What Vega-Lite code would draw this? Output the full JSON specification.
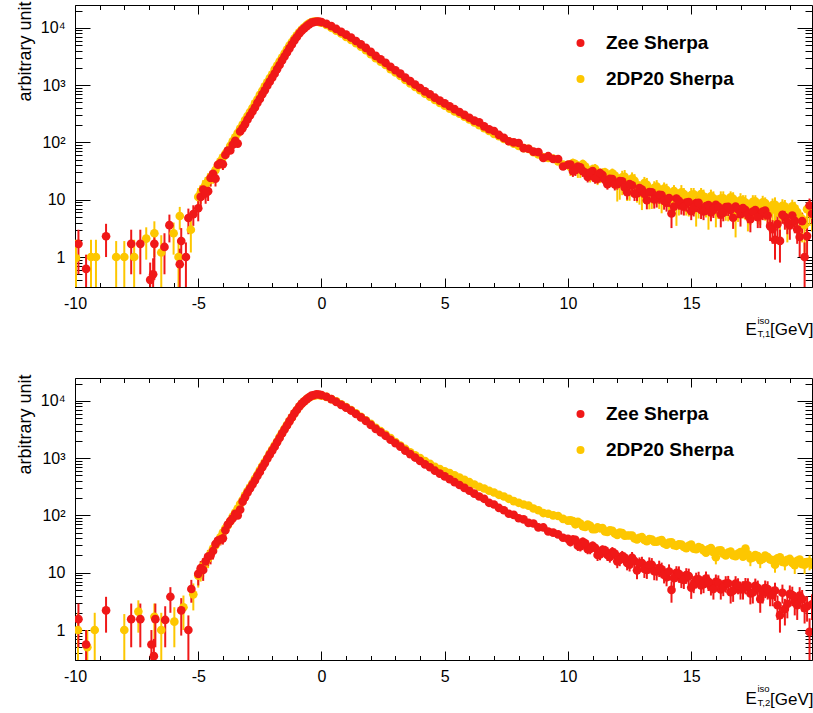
{
"$schema": "https://vega.github.io/schema/vega-lite/v6.json",
"padding": {"left": 15, "top": 0, "right": 0, "bottom": 0},
"config": {
 "view": {"stroke": "black", "strokeWidth": 1},
 "font": "Liberation Sans",
 "axis": {"domain": false, "grid": false, "tickColor": "black", "tickWidth": 1, "labelColor": "black", "labelFont": "Liberation Sans", "labelFontSize": 16, "titleColor": "black", "titleFont": "Liberation Sans", "titleFontWeight": "normal", "labelOverlap": false, "labelBound": false, "labelFlush": false},
 "legend": {"padding": 0}
},
"datasets": {
"top": [
{"s":"D","x":-9.96,"y":0.96,"l":0.1,"h":2.0},{"s":"D","x":-9.35,"y":1.0,"l":0.2,"h":2.0},{"s":"D","x":-9.15,"y":1.0,"l":0.1,"h":2.0},{"s":"D","x":-8.33,"y":1.0,"l":0.3,"h":1.9},{"s":"D","x":-8.0,"y":1.0,"l":0.3,"h":1.9},{"s":"D","x":-7.6,"y":1.0,"l":0.2,"h":2.0},{"s":"D","x":-7.11,"y":2.1,"l":0.9,"h":3.3},{"s":"D","x":-6.78,"y":2.6,"l":1.0,"h":4.2},{"s":"D","x":-6.5,"y":1.2,"l":0.1,"h":2.4},{"s":"D","x":-6.0,"y":2.6,"l":1.1,"h":4.0},{"s":"D","x":-5.8,"y":1.0,"l":0.2,"h":2.0},{"s":"D","x":-5.75,"y":5.2,"l":3.0,"h":7.5},{"s":"D","x":-5.3,"y":3.0,"l":1.2,"h":4.8},
{"s":"D","x":-5.0,"y":11.2,"l":6.5,"h":16},{"s":"D","x":-4.8,"y":15.8,"l":10,"h":22},{"s":"D","x":-4.6,"y":21.4,"l":14,"h":29},{"s":"D","x":-4.4,"y":27.5,"l":19,"h":36},{"s":"D","x":-4.2,"y":39.8,"l":29,"h":50},
{"s":"D","x":-4.9,"y":13.2,"l":8.5,"h":18},{"s":"D","x":-4.7,"y":18.6,"l":12.5,"h":25},{"s":"D","x":-4.5,"y":24.5,"l":17,"h":32},{"s":"D","x":-4.3,"y":33.1,"l":24,"h":42},{"s":"D","x":-4.1,"y":46.8,"l":37,"h":56},
{"s":"D","x":-3.9,"y":63.1},{"s":"D","x":-3.7,"y":87.1},{"s":"D","x":-3.5,"y":123},{"s":"D","x":-3.3,"y":174},{"s":"D","x":-3.1,"y":245},{"s":"D","x":-2.9,"y":339},{"s":"D","x":-2.7,"y":479},{"s":"D","x":-2.5,"y":676},{"s":"D","x":-2.3,"y":955},{"s":"D","x":-2.1,"y":1320},{"s":"D","x":-1.9,"y":1860},{"s":"D","x":-1.7,"y":2570},{"s":"D","x":-1.5,"y":3550},{"s":"D","x":-1.3,"y":4900},{"s":"D","x":-1.1,"y":6460},{"s":"D","x":-0.9,"y":8320},{"s":"D","x":-0.7,"y":10200},{"s":"D","x":-0.5,"y":12000},{"s":"D","x":-0.3,"y":12900},{"s":"D","x":-0.1,"y":12600},
{"s":"D","x":-4.0,"y":55},{"s":"D","x":-3.8,"y":72.4},{"s":"D","x":-3.6,"y":105},{"s":"D","x":-3.4,"y":145},{"s":"D","x":-3.2,"y":204},{"s":"D","x":-3.0,"y":288},{"s":"D","x":-2.8,"y":398},{"s":"D","x":-2.6,"y":562},{"s":"D","x":-2.4,"y":794},{"s":"D","x":-2.2,"y":1120},{"s":"D","x":-2.0,"y":1550},{"s":"D","x":-1.8,"y":2190},{"s":"D","x":-1.6,"y":3020},{"s":"D","x":-1.4,"y":4170},{"s":"D","x":-1.2,"y":5620},{"s":"D","x":-1.0,"y":7410},{"s":"D","x":-0.8,"y":9330},{"s":"D","x":-0.6,"y":11200},{"s":"D","x":-0.4,"y":12600},{"s":"D","x":-0.2,"y":12900},
{"s":"D","x":0.0,"y":12300},{"s":"D","x":0.2,"y":11200},{"s":"D","x":0.4,"y":10000},{"s":"D","x":0.6,"y":8910},{"s":"D","x":0.8,"y":7940},{"s":"D","x":1.0,"y":6920},{"s":"D","x":1.2,"y":6170},{"s":"D","x":1.4,"y":5370},{"s":"D","x":1.6,"y":4680},{"s":"D","x":1.8,"y":4070},{"s":"D","x":2.0,"y":3470},{"s":"D","x":2.2,"y":2950},{"s":"D","x":2.4,"y":2570},{"s":"D","x":2.6,"y":2240},{"s":"D","x":2.8,"y":1905},{"s":"D","x":3.0,"y":1660},{"s":"D","x":3.2,"y":1445},{"s":"D","x":3.4,"y":1230},{"s":"D","x":3.6,"y":1070},{"s":"D","x":3.8,"y":933},{"s":"D","x":4.0,"y":813},{"s":"D","x":4.2,"y":708},{"s":"D","x":4.4,"y":631},{"s":"D","x":4.6,"y":550},{"s":"D","x":4.8,"y":490},{"s":"D","x":5.0,"y":437},{"s":"D","x":5.2,"y":389},{"s":"D","x":5.4,"y":347},{"s":"D","x":5.6,"y":316},{"s":"D","x":5.8,"y":282},{"s":"D","x":6.0,"y":251},{"s":"D","x":6.2,"y":224},{"s":"D","x":6.4,"y":200},{"s":"D","x":6.6,"y":178},{"s":"D","x":6.8,"y":158},{"s":"D","x":7.0,"y":141},{"s":"D","x":7.2,"y":129},{"s":"D","x":7.4,"y":115},{"s":"D","x":7.6,"y":105},{"s":"D","x":7.8,"y":95.5},{"s":"D","x":8.0,"y":87.1},{"s":"D","x":8.2,"y":79.4},{"s":"D","x":8.4,"y":77},{"s":"D","x":8.6,"y":67.6},{"s":"D","x":8.8,"y":61.7},{"s":"D","x":9.0,"y":55},{"s":"D","x":9.2,"y":53.7},{"s":"D","x":9.4,"y":52},{"s":"D","x":9.6,"y":46.8},{"s":"D","x":9.8,"y":41},{"s":"D","x":10.0,"y":40.7},
{"s":"D","x":10.2,"y":43.7,"l":31,"h":52},{"s":"D","x":10.4,"y":33.9,"l":24,"h":41},{"s":"D","x":10.6,"y":41.7,"l":29,"h":50},{"s":"D","x":10.8,"y":30.9,"l":22,"h":37},{"s":"D","x":11.0,"y":33.9,"l":24,"h":41},{"s":"D","x":11.2,"y":25.7,"l":18,"h":31},{"s":"D","x":11.4,"y":29.5,"l":21,"h":35},{"s":"D","x":11.6,"y":25.1,"l":18,"h":30},{"s":"D","x":11.8,"y":28.8,"l":20,"h":35},{"s":"D","x":12.0,"y":18.6,"l":9.3,"h":24},{"s":"D","x":12.2,"y":24.5,"l":12,"h":32},{"s":"D","x":12.4,"y":19.1,"l":9.5,"h":25},{"s":"D","x":12.6,"y":23.4,"l":12,"h":30},{"s":"D","x":12.8,"y":17.8,"l":8.9,"h":23},{"s":"D","x":13.0,"y":13.2,"l":6.6,"h":17},{"s":"D","x":13.2,"y":18.2,"l":9.1,"h":24},{"s":"D","x":13.4,"y":13.8,"l":6.9,"h":18},{"s":"D","x":13.6,"y":17.0,"l":8.5,"h":22},{"s":"D","x":13.8,"y":11.7,"l":5.8,"h":15},{"s":"D","x":14.0,"y":14.8,"l":7.4,"h":19},{"s":"D","x":14.2,"y":11.2,"l":5.6,"h":15},{"s":"D","x":14.4,"y":8.91,"l":3.5,"h":12},{"s":"D","x":14.6,"y":13.5,"l":6.7,"h":18},{"s":"D","x":14.8,"y":10.7,"l":5.3,"h":14},{"s":"D","x":15.0,"y":12.0,"l":6,"h":16},{"s":"D","x":15.2,"y":8.51,"l":3.4,"h":11},{"s":"D","x":15.4,"y":12.6,"l":6.3,"h":16},{"s":"D","x":15.6,"y":9.77,"l":4.9,"h":13},{"s":"D","x":15.8,"y":11.5,"l":5.7,"h":15},{"s":"D","x":16.0,"y":8.32,"l":3.3,"h":11},{"s":"D","x":16.2,"y":10.5,"l":5.2,"h":14},{"s":"D","x":16.4,"y":8.71,"l":4.3,"h":11},{"s":"D","x":16.6,"y":11.0,"l":5.5,"h":14},{"s":"D","x":16.8,"y":6.31,"l":2.2,"h":8.5},{"s":"D","x":17.0,"y":9.77,"l":4.9,"h":13},{"s":"D","x":17.2,"y":8.91,"l":4.4,"h":12},{"s":"D","x":17.4,"y":7.24,"l":3.6,"h":9.4},{"s":"D","x":17.6,"y":9.33,"l":4.6,"h":12},{"s":"D","x":17.8,"y":7.24,"l":3.6,"h":9.4},{"s":"D","x":18.0,"y":8.71,"l":4.3,"h":11},{"s":"D","x":18.2,"y":6.31,"l":2.5,"h":8.2},{"s":"D","x":18.4,"y":8.13,"l":4,"h":11},{"s":"D","x":18.6,"y":5.75,"l":2.3,"h":7.5},{"s":"D","x":18.8,"y":7.59,"l":3.8,"h":9.9},{"s":"D","x":19.0,"y":6.17,"l":3.1,"h":8},{"s":"D","x":19.2,"y":7.08,"l":3.5,"h":9.2},{"s":"D","x":19.4,"y":5.01,"l":2,"h":6.5},{"s":"D","x":19.6,"y":3.63,"l":1.2,"h":4.9},{"s":"D","x":19.8,"y":7.08,"l":3.5,"h":9.2},
{"s":"D","x":10.1,"y":37.2,"l":26,"h":45},{"s":"D","x":10.3,"y":41.7,"l":29,"h":50},{"s":"D","x":10.5,"y":34.3,"l":24,"h":41},{"s":"D","x":10.7,"y":38.0,"l":27,"h":46},{"s":"D","x":10.9,"y":29.2,"l":20,"h":35},{"s":"D","x":11.1,"y":34.7,"l":24,"h":42},{"s":"D","x":11.3,"y":27.9,"l":19.5,"h":33},{"s":"D","x":11.5,"y":30.2,"l":21,"h":36},{"s":"D","x":11.7,"y":23.7,"l":16.5,"h":28.5},{"s":"D","x":11.9,"y":26.3,"l":18.4,"h":31.5},{"s":"D","x":12.1,"y":20.2,"l":10,"h":26},{"s":"D","x":12.3,"y":25.1,"l":12.5,"h":33},{"s":"D","x":12.5,"y":19.3,"l":9.6,"h":25},{"s":"D","x":12.7,"y":21.4,"l":10.7,"h":28},{"s":"D","x":12.9,"y":16.4,"l":8.2,"h":21},{"s":"D","x":13.1,"y":19.5,"l":9.8,"h":25},{"s":"D","x":13.3,"y":13.6,"l":6.8,"h":18},{"s":"D","x":13.5,"y":16.2,"l":8.1,"h":21},{"s":"D","x":13.7,"y":13.8,"l":6.9,"h":18},{"s":"D","x":13.9,"y":15.7,"l":7.8,"h":20},{"s":"D","x":14.1,"y":12.2,"l":6.1,"h":16},{"s":"D","x":14.3,"y":14.1,"l":7.1,"h":18},{"s":"D","x":14.5,"y":10.6,"l":5.3,"h":14},{"s":"D","x":14.7,"y":12.6,"l":6.3,"h":16},{"s":"D","x":14.9,"y":10.2,"l":5.1,"h":13},{"s":"D","x":15.1,"y":12.4,"l":6.2,"h":16},{"s":"D","x":15.3,"y":9.44,"l":4.7,"h":12},{"s":"D","x":15.5,"y":11.4,"l":5.7,"h":15},{"s":"D","x":15.7,"y":7.67,"l":3.0,"h":10},{"s":"D","x":15.9,"y":10.6,"l":5.3,"h":14},{"s":"D","x":16.1,"y":9.23,"l":4.6,"h":12},{"s":"D","x":16.3,"y":10.6,"l":5.3,"h":14},{"s":"D","x":16.5,"y":8.41,"l":4.2,"h":11},{"s":"D","x":16.7,"y":10.4,"l":5.2,"h":13.5},{"s":"D","x":16.9,"y":8.22,"l":4.1,"h":10.7},{"s":"D","x":17.1,"y":9.44,"l":4.7,"h":12},{"s":"D","x":17.3,"y":7.0,"l":2.8,"h":9.1},{"s":"D","x":17.5,"y":9.23,"l":4.6,"h":12},{"s":"D","x":17.7,"y":7.67,"l":3.8,"h":10},{"s":"D","x":17.9,"y":9.02,"l":4.5,"h":11.7},{"s":"D","x":18.1,"y":6.84,"l":3.4,"h":8.9},{"s":"D","x":18.3,"y":8.04,"l":4,"h":10.5},{"s":"D","x":18.5,"y":6.84,"l":3.4,"h":8.9},{"s":"D","x":18.7,"y":7.85,"l":3.9,"h":10.2},{"s":"D","x":18.9,"y":4.42,"l":1.8,"h":5.7},{"s":"D","x":19.1,"y":7.67,"l":3.8,"h":10},{"s":"D","x":19.3,"y":6.1,"l":3,"h":7.9},{"s":"D","x":19.5,"y":4.62,"l":1.8,"h":6},{"s":"D","x":19.7,"y":6.84,"l":3.4,"h":8.9},{"s":"D","x":19.9,"y":5.56,"l":2.8,"h":7.2},
{"s":"Z","x":-9.86,"y":1.7,"l":0.5,"h":3.0},{"s":"Z","x":-9.55,"y":0.62,"l":0.2,"h":1.1},{"s":"Z","x":-8.74,"y":2.3,"l":1.0,"h":3.8},{"s":"Z","x":-7.72,"y":1.7,"l":0.5,"h":3.0},{"s":"Z","x":-7.35,"y":1.7,"l":0.5,"h":3.0},{"s":"Z","x":-6.95,"y":0.4,"l":0.1,"h":0.8},{"s":"Z","x":-6.83,"y":0.5,"l":0.1,"h":0.95},{"s":"Z","x":-6.78,"y":1.7,"l":0.4,"h":3.0},{"s":"Z","x":-6.37,"y":1.5,"l":0.5,"h":2.6},{"s":"Z","x":-6.17,"y":3.6,"l":1.8,"h":5.5},{"s":"Z","x":-5.75,"y":0.75,"l":0.2,"h":1.4},{"s":"Z","x":-5.69,"y":1.9,"l":0.8,"h":3.2},{"s":"Z","x":-5.5,"y":1.0,"l":0.3,"h":1.8},{"s":"Z","x":-5.4,"y":4.8,"l":2.5,"h":7.0},{"s":"Z","x":-5.2,"y":5.6,"l":3.5,"h":8.0},
{"s":"Z","x":-5.0,"y":7.1,"l":4.2,"h":10},{"s":"Z","x":-4.8,"y":15.1,"l":10,"h":20},{"s":"Z","x":-4.6,"y":14.1,"l":9.5,"h":19},{"s":"Z","x":-4.4,"y":28.2,"l":21,"h":36},{"s":"Z","x":-4.2,"y":40.7,"l":31,"h":50},{"s":"Z","x":-4.0,"y":41.7,"l":33,"h":51},
{"s":"Z","x":-4.9,"y":11.2,"l":7,"h":15},{"s":"Z","x":-4.7,"y":12.9,"l":8.5,"h":17},{"s":"Z","x":-4.5,"y":24.0,"l":17,"h":31},{"s":"Z","x":-4.3,"y":23.4,"l":17,"h":30},{"s":"Z","x":-4.1,"y":43.7,"l":35,"h":52},
{"s":"Z","x":-3.9,"y":60.3},{"s":"Z","x":-3.7,"y":72.4},{"s":"Z","x":-3.5,"y":107},{"s":"Z","x":-3.3,"y":155},{"s":"Z","x":-3.1,"y":209},{"s":"Z","x":-2.9,"y":295},{"s":"Z","x":-2.7,"y":407},{"s":"Z","x":-2.5,"y":575},{"s":"Z","x":-2.3,"y":813},{"s":"Z","x":-2.1,"y":1150},{"s":"Z","x":-1.9,"y":1585},{"s":"Z","x":-1.7,"y":2240},{"s":"Z","x":-1.5,"y":3160},{"s":"Z","x":-1.3,"y":4365},{"s":"Z","x":-1.1,"y":6030},{"s":"Z","x":-0.9,"y":7940},{"s":"Z","x":-0.7,"y":9770},{"s":"Z","x":-0.5,"y":11500},{"s":"Z","x":-0.3,"y":12600},{"s":"Z","x":-0.1,"y":12900},
{"s":"Z","x":-3.8,"y":72.4},{"s":"Z","x":-3.6,"y":91.2},{"s":"Z","x":-3.4,"y":95.5},{"s":"Z","x":-3.2,"y":178},{"s":"Z","x":-3.0,"y":251},{"s":"Z","x":-2.8,"y":347},{"s":"Z","x":-2.6,"y":490},{"s":"Z","x":-2.4,"y":692},{"s":"Z","x":-2.2,"y":977},{"s":"Z","x":-2.0,"y":1350},{"s":"Z","x":-1.8,"y":1905},{"s":"Z","x":-1.6,"y":2690},{"s":"Z","x":-1.4,"y":3715},{"s":"Z","x":-1.2,"y":5130},{"s":"Z","x":-1.0,"y":6920},{"s":"Z","x":-0.8,"y":8910},{"s":"Z","x":-0.6,"y":10700},{"s":"Z","x":-0.4,"y":12300},{"s":"Z","x":-0.2,"y":12900},
{"s":"Z","x":0.0,"y":12600},{"s":"Z","x":0.2,"y":11750},{"s":"Z","x":0.4,"y":10700},{"s":"Z","x":0.6,"y":9550},{"s":"Z","x":0.8,"y":8510},{"s":"Z","x":1.0,"y":7590},{"s":"Z","x":1.2,"y":6760},{"s":"Z","x":1.4,"y":5890},{"s":"Z","x":1.6,"y":5130},{"s":"Z","x":1.8,"y":4470},{"s":"Z","x":2.0,"y":3800},{"s":"Z","x":2.2,"y":3240},{"s":"Z","x":2.4,"y":2820},{"s":"Z","x":2.6,"y":2450},{"s":"Z","x":2.8,"y":2090},{"s":"Z","x":3.0,"y":1820},{"s":"Z","x":3.2,"y":1585},{"s":"Z","x":3.4,"y":1350},{"s":"Z","x":3.6,"y":1175},{"s":"Z","x":3.8,"y":1023},{"s":"Z","x":4.0,"y":891},{"s":"Z","x":4.2,"y":776},{"s":"Z","x":4.4,"y":692},{"s":"Z","x":4.6,"y":603},{"s":"Z","x":4.8,"y":537},{"s":"Z","x":5.0,"y":479},{"s":"Z","x":5.2,"y":427},{"s":"Z","x":5.4,"y":380},{"s":"Z","x":5.6,"y":339},{"s":"Z","x":5.8,"y":302},{"s":"Z","x":6.0,"y":269},{"s":"Z","x":6.2,"y":240},{"s":"Z","x":6.4,"y":224},{"s":"Z","x":6.6,"y":191},{"s":"Z","x":6.8,"y":170},{"s":"Z","x":7.0,"y":158},{"s":"Z","x":7.2,"y":135},{"s":"Z","x":7.4,"y":120},{"s":"Z","x":7.6,"y":105},{"s":"Z","x":7.8,"y":100},{"s":"Z","x":8.0,"y":97.7},{"s":"Z","x":8.2,"y":79.4},{"s":"Z","x":8.4,"y":77.6},{"s":"Z","x":8.6,"y":69.2},{"s":"Z","x":8.8,"y":67.6},{"s":"Z","x":9.0,"y":53.7},{"s":"Z","x":9.2,"y":57.5},{"s":"Z","x":9.4,"y":51.3},{"s":"Z","x":9.6,"y":51.3},{"s":"Z","x":9.8,"y":38},
{"s":"Z","x":10.0,"y":40.7,"l":34,"h":48},{"s":"Z","x":10.2,"y":31.6,"l":25,"h":38},{"s":"Z","x":10.4,"y":38.0,"l":30,"h":46},{"s":"Z","x":10.6,"y":31.6,"l":25,"h":38},{"s":"Z","x":10.8,"y":25.1,"l":20,"h":31},{"s":"Z","x":11.0,"y":31.6,"l":25,"h":38},{"s":"Z","x":11.2,"y":23.4,"l":19,"h":29},{"s":"Z","x":11.4,"y":26.9,"l":21,"h":33},{"s":"Z","x":11.6,"y":18.6,"l":15,"h":23},{"s":"Z","x":11.8,"y":22.9,"l":18,"h":28},{"s":"Z","x":12.0,"y":18.6,"l":15,"h":23},{"s":"Z","x":12.2,"y":20.9,"l":17,"h":26},{"s":"Z","x":12.4,"y":13.5,"l":10,"h":17},{"s":"Z","x":12.6,"y":17.8,"l":14,"h":22},{"s":"Z","x":12.8,"y":12.9,"l":9.5,"h":16},{"s":"Z","x":13.0,"y":15.1,"l":11,"h":20},{"s":"Z","x":13.2,"y":9.77,"l":6.8,"h":13},{"s":"Z","x":13.4,"y":13.5,"l":9.5,"h":18},{"s":"Z","x":13.6,"y":10.5,"l":7.3,"h":14},{"s":"Z","x":13.8,"y":12.0,"l":8.4,"h":16},{"s":"Z","x":14.0,"y":8.91,"l":6.2,"h":12},{"s":"Z","x":14.2,"y":5.75,"l":3.2,"h":8},{"s":"Z","x":14.4,"y":10.5,"l":7.3,"h":14},{"s":"Z","x":14.6,"y":7.94,"l":5.5,"h":11},{"s":"Z","x":14.8,"y":8.91,"l":6.2,"h":12},{"s":"Z","x":15.0,"y":6.31,"l":4.4,"h":8.5},{"s":"Z","x":15.2,"y":8.71,"l":6.1,"h":12},{"s":"Z","x":15.4,"y":6.61,"l":4.6,"h":8.9},{"s":"Z","x":15.6,"y":7.76,"l":5.4,"h":10.5},{"s":"Z","x":15.8,"y":6.03,"l":4.2,"h":8.1},{"s":"Z","x":16.0,"y":8.13,"l":5.7,"h":11},{"s":"Z","x":16.2,"y":5.5,"l":3.3,"h":7.7},{"s":"Z","x":16.4,"y":7.41,"l":5.2,"h":10},{"s":"Z","x":16.6,"y":6.61,"l":4.6,"h":8.9},{"s":"Z","x":16.8,"y":7.59,"l":5.3,"h":10.2},{"s":"Z","x":17.0,"y":5.62,"l":3.4,"h":7.9},{"s":"Z","x":17.2,"y":6.61,"l":4.6,"h":8.9},{"s":"Z","x":17.4,"y":4.57,"l":2.7,"h":6.4},{"s":"Z","x":17.6,"y":6.61,"l":4.6,"h":8.9},{"s":"Z","x":17.8,"y":5.37,"l":3.2,"h":7.5},{"s":"Z","x":18.0,"y":6.46,"l":4.5,"h":8.7},{"s":"Z","x":18.2,"y":3.47,"l":1.9,"h":5.0},{"s":"Z","x":18.4,"y":2.0,"l":0.9,"h":3.1},{"s":"Z","x":18.6,"y":1.91,"l":0.8,"h":3.0},{"s":"Z","x":18.8,"y":5.0,"l":3.0,"h":7.0},{"s":"Z","x":19.0,"y":3.55,"l":2.0,"h":5.1},{"s":"Z","x":19.2,"y":4.27,"l":2.6,"h":6.0},{"s":"Z","x":19.4,"y":2.24,"l":1.0,"h":3.5},{"s":"Z","x":19.6,"y":1.0,"l":0.3,"h":1.8},{"s":"Z","x":19.8,"y":7.94,"l":5.6,"h":10.5},
{"s":"Z","x":10.1,"y":41.2,"l":34,"h":49},{"s":"Z","x":10.3,"y":32.7,"l":26,"h":40},{"s":"Z","x":10.5,"y":36.7,"l":29,"h":44},{"s":"Z","x":10.7,"y":29.9,"l":24,"h":36},{"s":"Z","x":10.9,"y":29.9,"l":24,"h":36},{"s":"Z","x":11.1,"y":23.7,"l":19,"h":29},{"s":"Z","x":11.3,"y":29.2,"l":23,"h":35},{"s":"Z","x":11.5,"y":22.1,"l":17.5,"h":27},{"s":"Z","x":11.7,"y":23.2,"l":18.5,"h":28},{"s":"Z","x":11.9,"y":18.4,"l":14.5,"h":22.5},{"s":"Z","x":12.1,"y":21.1,"l":17,"h":26},{"s":"Z","x":12.3,"y":16.4,"l":13,"h":20},{"s":"Z","x":12.5,"y":18.8,"l":15,"h":23},{"s":"Z","x":12.7,"y":12.7,"l":9.5,"h":16},{"s":"Z","x":12.9,"y":16.0,"l":12,"h":20},{"s":"Z","x":13.1,"y":12.7,"l":9,"h":17},{"s":"Z","x":13.3,"y":13.6,"l":9.5,"h":18},{"s":"Z","x":13.5,"y":10.1,"l":7,"h":13.5},{"s":"Z","x":13.7,"y":12.2,"l":8.5,"h":16},{"s":"Z","x":13.9,"y":9.55,"l":6.7,"h":13},{"s":"Z","x":14.1,"y":10.7,"l":7.5,"h":14.5},{"s":"Z","x":14.3,"y":7.59,"l":5.3,"h":10},{"s":"Z","x":14.5,"y":9.55,"l":6.7,"h":13},{"s":"Z","x":14.7,"y":7.59,"l":5.3,"h":10},{"s":"Z","x":14.9,"y":9.12,"l":6.4,"h":12},{"s":"Z","x":15.1,"y":7.33,"l":5.1,"h":9.9},{"s":"Z","x":15.3,"y":8.81,"l":6.2,"h":12},{"s":"Z","x":15.5,"y":6.24,"l":4.4,"h":8.4},{"s":"Z","x":15.7,"y":8.04,"l":5.6,"h":10.9},{"s":"Z","x":15.9,"y":6.84,"l":4.8,"h":9.2},{"s":"Z","x":16.1,"y":7.5,"l":5.2,"h":10.1},{"s":"Z","x":16.3,"y":5.96,"l":4.2,"h":8.0},{"s":"Z","x":16.5,"y":7.5,"l":5.2,"h":10.1},{"s":"Z","x":16.7,"y":4.84,"l":3.1,"h":6.8},{"s":"Z","x":16.9,"y":6.84,"l":4.8,"h":9.2},{"s":"Z","x":17.1,"y":7.16,"l":5.0,"h":9.7},{"s":"Z","x":17.3,"y":5.56,"l":3.9,"h":7.5},{"s":"Z","x":17.5,"y":6.24,"l":4.4,"h":8.4},{"s":"Z","x":17.7,"y":4.95,"l":3.2,"h":6.9},{"s":"Z","x":17.9,"y":6.24,"l":4.4,"h":8.4},{"s":"Z","x":18.1,"y":5.31,"l":3.7,"h":7.2},{"s":"Z","x":18.3,"y":3.05,"l":1.7,"h":4.4},{"s":"Z","x":18.5,"y":3.76,"l":2.2,"h":5.3},{"s":"Z","x":18.7,"y":5.43,"l":3.8,"h":7.3},{"s":"Z","x":18.9,"y":4.03,"l":2.5,"h":5.6},{"s":"Z","x":19.1,"y":5.31,"l":3.7,"h":7.2},{"s":"Z","x":19.3,"y":3.05,"l":1.7,"h":4.4},{"s":"Z","x":19.5,"y":4.22,"l":2.6,"h":5.9},{"s":"Z","x":19.7,"y":2.32,"l":1.1,"h":3.6},{"s":"Z","x":19.9,"y":5.69,"l":3.8,"h":7.6}
],
"bot": [
{"s":"D","x":-9.88,"y":1.0,"l":0.1,"h":2.0},{"s":"D","x":-9.5,"y":0.5,"l":0.1,"h":1.0},{"s":"D","x":-9.2,"y":1.0,"l":0.2,"h":2.0},{"s":"D","x":-8.0,"y":1.0,"l":0.3,"h":1.9},{"s":"D","x":-7.43,"y":2.1,"l":0.9,"h":3.3},{"s":"D","x":-6.78,"y":1.7,"l":0.6,"h":2.9},{"s":"D","x":-6.5,"y":1.0,"l":0.2,"h":2.0},{"s":"D","x":-5.97,"y":1.4,"l":0.5,"h":2.5},{"s":"D","x":-5.6,"y":2.5,"l":1.0,"h":4.0},{"s":"D","x":-5.2,"y":4.2,"l":2.2,"h":6.5},
{"s":"D","x":-5.0,"y":8.91,"l":5.5,"h":12.5},{"s":"D","x":-4.8,"y":13.2,"l":8.5,"h":18},{"s":"D","x":-4.6,"y":17.8,"l":12,"h":24},{"s":"D","x":-4.4,"y":26.3,"l":19,"h":34},{"s":"D","x":-4.2,"y":35.5,"l":27,"h":45},
{"s":"D","x":-4.9,"y":11.0,"l":7,"h":15},{"s":"D","x":-4.7,"y":15.5,"l":10.5,"h":21},{"s":"D","x":-4.5,"y":21.9,"l":15.5,"h":28},{"s":"D","x":-4.3,"y":30.2,"l":22,"h":38},{"s":"D","x":-4.1,"y":41.7,"l":33,"h":50},
{"s":"D","x":-3.9,"y":58.9},{"s":"D","x":-3.7,"y":79.4},{"s":"D","x":-3.5,"y":112},{"s":"D","x":-3.3,"y":158},{"s":"D","x":-3.1,"y":224},{"s":"D","x":-2.9,"y":309},{"s":"D","x":-2.7,"y":437},{"s":"D","x":-2.5,"y":617},{"s":"D","x":-2.3,"y":851},{"s":"D","x":-2.1,"y":1200},{"s":"D","x":-1.9,"y":1660},{"s":"D","x":-1.7,"y":2340},{"s":"D","x":-1.5,"y":3240},{"s":"D","x":-1.3,"y":4470},{"s":"D","x":-1.1,"y":6030},{"s":"D","x":-0.9,"y":7940},{"s":"D","x":-0.7,"y":9770},{"s":"D","x":-0.5,"y":11500},{"s":"D","x":-0.3,"y":12300},{"s":"D","x":-0.1,"y":12600},
{"s":"D","x":-4.0,"y":50.1},{"s":"D","x":-3.8,"y":67.6},{"s":"D","x":-3.6,"y":95.5},{"s":"D","x":-3.4,"y":132},{"s":"D","x":-3.2,"y":186},{"s":"D","x":-3.0,"y":263},{"s":"D","x":-2.8,"y":363},{"s":"D","x":-2.6,"y":513},{"s":"D","x":-2.4,"y":724},{"s":"D","x":-2.2,"y":1000},{"s":"D","x":-2.0,"y":1410},{"s":"D","x":-1.8,"y":1950},{"s":"D","x":-1.6,"y":2750},{"s":"D","x":-1.4,"y":3800},{"s":"D","x":-1.2,"y":5130},{"s":"D","x":-1.0,"y":6920},{"s":"D","x":-0.8,"y":8910},{"s":"D","x":-0.6,"y":10700},{"s":"D","x":-0.4,"y":12000},{"s":"D","x":-0.2,"y":12600},
{"s":"D","x":0.0,"y":12300},{"s":"D","x":0.2,"y":11700},{"s":"D","x":0.4,"y":10700},{"s":"D","x":0.6,"y":9770},{"s":"D","x":0.8,"y":8710},{"s":"D","x":1.0,"y":7760},{"s":"D","x":1.2,"y":6920},{"s":"D","x":1.4,"y":6030},{"s":"D","x":1.6,"y":5250},{"s":"D","x":1.8,"y":4570},{"s":"D","x":2.0,"y":3980},{"s":"D","x":2.2,"y":3390},{"s":"D","x":2.4,"y":2950},{"s":"D","x":2.6,"y":2570},{"s":"D","x":2.8,"y":2240},{"s":"D","x":3.0,"y":1905},{"s":"D","x":3.2,"y":1660},{"s":"D","x":3.4,"y":1445},{"s":"D","x":3.6,"y":1260},{"s":"D","x":3.8,"y":1120},{"s":"D","x":4.0,"y":1000},{"s":"D","x":4.2,"y":891},{"s":"D","x":4.4,"y":794},{"s":"D","x":4.6,"y":708},{"s":"D","x":4.8,"y":646},{"s":"D","x":5.0,"y":589},{"s":"D","x":5.2,"y":550},{"s":"D","x":5.4,"y":501},{"s":"D","x":5.6,"y":457},{"s":"D","x":5.8,"y":417},{"s":"D","x":6.0,"y":380},{"s":"D","x":6.2,"y":347},{"s":"D","x":6.4,"y":316},{"s":"D","x":6.6,"y":295},{"s":"D","x":6.8,"y":269},{"s":"D","x":7.0,"y":251},{"s":"D","x":7.2,"y":229},{"s":"D","x":7.4,"y":214},{"s":"D","x":7.6,"y":195},{"s":"D","x":7.8,"y":178},{"s":"D","x":8.0,"y":166},{"s":"D","x":8.2,"y":155},{"s":"D","x":8.4,"y":148},{"s":"D","x":8.6,"y":132},{"s":"D","x":8.8,"y":123},{"s":"D","x":9.0,"y":110},{"s":"D","x":9.2,"y":107},{"s":"D","x":9.4,"y":100},{"s":"D","x":9.6,"y":97.7},{"s":"D","x":9.8,"y":87.1},{"s":"D","x":10.0,"y":81.3},{"s":"D","x":10.2,"y":79.4},{"s":"D","x":10.4,"y":77.6},{"s":"D","x":10.6,"y":64.6},{"s":"D","x":10.8,"y":69.2},{"s":"D","x":11.0,"y":57.5},{"s":"D","x":11.2,"y":61.7},{"s":"D","x":11.4,"y":60.3},{"s":"D","x":11.6,"y":51.3},{"s":"D","x":11.8,"y":53.7},{"s":"D","x":12.0,"y":45.7},{"s":"D","x":12.2,"y":49.0},{"s":"D","x":12.4,"y":44.7},{"s":"D","x":12.6,"y":44.7},{"s":"D","x":12.8,"y":38.0},{"s":"D","x":13.0,"y":41.7},{"s":"D","x":13.2,"y":35.5},{"s":"D","x":13.4,"y":38.0},{"s":"D","x":13.6,"y":34.7},{"s":"D","x":13.8,"y":37.2},
{"s":"D","x":14.0,"y":30.9,"l":26,"h":36},{"s":"D","x":14.2,"y":33.9},{"s":"D","x":14.4,"y":29.5},{"s":"D","x":14.6,"y":30.9},{"s":"D","x":14.8,"y":26.9},{"s":"D","x":15.0,"y":30.9},{"s":"D","x":15.2,"y":25.7},{"s":"D","x":15.4,"y":26.9},{"s":"D","x":15.6,"y":22.4},{"s":"D","x":15.8,"y":26.9},{"s":"D","x":16.0,"y":18.6,"l":14,"h":23},{"s":"D","x":16.2,"y":24.5},{"s":"D","x":16.4,"y":20.0},{"s":"D","x":16.6,"y":23.4},{"s":"D","x":16.8,"y":19.5},{"s":"D","x":17.0,"y":22.9},{"s":"D","x":17.2,"y":26.3},{"s":"D","x":17.4,"y":17.8,"l":13,"h":22},{"s":"D","x":17.6,"y":20.4},{"s":"D","x":17.8,"y":16.6,"l":12,"h":21},{"s":"D","x":18.0,"y":20.0},{"s":"D","x":18.2,"y":17.0},{"s":"D","x":18.4,"y":13.8,"l":10,"h":18},{"s":"D","x":18.6,"y":18.6},{"s":"D","x":18.8,"y":15.1,"l":11,"h":19},{"s":"D","x":19.0,"y":17.4},{"s":"D","x":19.2,"y":13.5,"l":9.5,"h":18},{"s":"D","x":19.4,"y":17.0},{"s":"D","x":19.6,"y":13.8,"l":9.5,"h":18},{"s":"D","x":19.8,"y":15.5,"l":11,"h":20},
{"s":"D","x":10.1,"y":82.2},{"s":"D","x":10.3,"y":70.0},{"s":"D","x":10.5,"y":72.4},{"s":"D","x":10.7,"y":63.1},{"s":"D","x":10.9,"y":66.1},{"s":"D","x":11.1,"y":57.5},{"s":"D","x":11.3,"y":59.6},{"s":"D","x":11.5,"y":52.5},{"s":"D","x":11.7,"y":55.0},{"s":"D","x":11.9,"y":48.4},{"s":"D","x":12.1,"y":50.1},{"s":"D","x":12.3,"y":44.2},{"s":"D","x":12.5,"y":44.7},{"s":"D","x":12.7,"y":39.8},{"s":"D","x":12.9,"y":40.7},{"s":"D","x":13.1,"y":37.2},{"s":"D","x":13.3,"y":38.5},{"s":"D","x":13.5,"y":34.7},{"s":"D","x":13.7,"y":35.9},{"s":"D","x":13.9,"y":32.4},{"s":"D","x":14.1,"y":33.5},{"s":"D","x":14.3,"y":30.2},{"s":"D","x":14.5,"y":31.3},{"s":"D","x":14.7,"y":28.2},{"s":"D","x":14.9,"y":29.5},{"s":"D","x":15.1,"y":26.3},{"s":"D","x":15.3,"y":27.9},{"s":"D","x":15.5,"y":24.5},{"s":"D","x":15.7,"y":25.7},{"s":"D","x":15.9,"y":22.9},{"s":"D","x":16.1,"y":24.3},{"s":"D","x":16.3,"y":21.4},{"s":"D","x":16.5,"y":22.4},{"s":"D","x":16.7,"y":20.0},{"s":"D","x":16.9,"y":21.6},{"s":"D","x":17.1,"y":19.1},{"s":"D","x":17.3,"y":20.9},{"s":"D","x":17.5,"y":18.4},{"s":"D","x":17.7,"y":19.5},{"s":"D","x":17.9,"y":17.4},{"s":"D","x":18.1,"y":18.8},{"s":"D","x":18.3,"y":16.6},{"s":"D","x":18.5,"y":17.8},{"s":"D","x":18.7,"y":15.5},{"s":"D","x":18.9,"y":16.8},{"s":"D","x":19.1,"y":14.8},{"s":"D","x":19.3,"y":16.2},{"s":"D","x":19.5,"y":14.1},{"s":"D","x":19.7,"y":15.3},{"s":"D","x":19.9,"y":13.8},
{"s":"Z","x":-9.86,"y":1.55,"l":0.5,"h":2.9},{"s":"Z","x":-9.55,"y":0.56,"l":0.15,"h":1.0},{"s":"Z","x":-8.74,"y":2.2,"l":0.9,"h":3.8},{"s":"Z","x":-7.72,"y":1.55,"l":0.5,"h":2.9},{"s":"Z","x":-7.35,"y":1.55,"l":0.5,"h":2.9},{"s":"Z","x":-6.9,"y":0.56,"l":0.1,"h":1.0},{"s":"Z","x":-6.8,"y":0.35,"l":0.1,"h":0.7},{"s":"Z","x":-6.74,"y":1.55,"l":0.5,"h":2.9},{"s":"Z","x":-6.34,"y":1.5,"l":0.5,"h":2.6},{"s":"Z","x":-6.13,"y":3.8,"l":2.0,"h":5.6},{"s":"Z","x":-5.69,"y":2.2,"l":0.8,"h":3.6},{"s":"Z","x":-5.4,"y":1.0,"l":0.3,"h":1.8},{"s":"Z","x":-5.28,"y":5.2,"l":3.0,"h":7.5},
{"s":"Z","x":-5.0,"y":9.55,"l":6,"h":13},{"s":"Z","x":-4.8,"y":11.2,"l":7.2,"h":15},{"s":"Z","x":-4.6,"y":19.1,"l":13,"h":25},{"s":"Z","x":-4.4,"y":24.0,"l":17,"h":31},{"s":"Z","x":-4.2,"y":36.3,"l":27,"h":45},{"s":"Z","x":-4.0,"y":39.8,"l":31,"h":49},
{"s":"Z","x":-4.9,"y":12.0,"l":8,"h":16},{"s":"Z","x":-4.7,"y":15.8,"l":11,"h":21},{"s":"Z","x":-4.5,"y":20.0,"l":14,"h":26},{"s":"Z","x":-4.3,"y":31.6,"l":23,"h":40},{"s":"Z","x":-4.1,"y":38.0,"l":30,"h":46},
{"s":"Z","x":-3.9,"y":55.0},{"s":"Z","x":-3.7,"y":79.4},{"s":"Z","x":-3.5,"y":107},{"s":"Z","x":-3.3,"y":126},{"s":"Z","x":-3.1,"y":209},{"s":"Z","x":-2.9,"y":295},{"s":"Z","x":-2.7,"y":407},{"s":"Z","x":-2.5,"y":575},{"s":"Z","x":-2.3,"y":813},{"s":"Z","x":-2.1,"y":1150},{"s":"Z","x":-1.9,"y":1585},{"s":"Z","x":-1.7,"y":2240},{"s":"Z","x":-1.5,"y":3160},{"s":"Z","x":-1.3,"y":4365},{"s":"Z","x":-1.1,"y":6030},{"s":"Z","x":-0.9,"y":7940},{"s":"Z","x":-0.7,"y":9770},{"s":"Z","x":-0.5,"y":11500},{"s":"Z","x":-0.3,"y":12600},{"s":"Z","x":-0.1,"y":12900},
{"s":"Z","x":-3.8,"y":69.2},{"s":"Z","x":-3.6,"y":89.1},{"s":"Z","x":-3.4,"y":100},{"s":"Z","x":-3.2,"y":174},{"s":"Z","x":-3.0,"y":251},{"s":"Z","x":-2.8,"y":347},{"s":"Z","x":-2.6,"y":490},{"s":"Z","x":-2.4,"y":692},{"s":"Z","x":-2.2,"y":977},{"s":"Z","x":-2.0,"y":1350},{"s":"Z","x":-1.8,"y":1905},{"s":"Z","x":-1.6,"y":2690},{"s":"Z","x":-1.4,"y":3715},{"s":"Z","x":-1.2,"y":5130},{"s":"Z","x":-1.0,"y":6920},{"s":"Z","x":-0.8,"y":8910},{"s":"Z","x":-0.6,"y":10700},{"s":"Z","x":-0.4,"y":12300},{"s":"Z","x":-0.2,"y":13000},
{"s":"Z","x":0.0,"y":12600},{"s":"Z","x":0.2,"y":11750},{"s":"Z","x":0.4,"y":10700},{"s":"Z","x":0.6,"y":9550},{"s":"Z","x":0.8,"y":8510},{"s":"Z","x":1.0,"y":7590},{"s":"Z","x":1.2,"y":6760},{"s":"Z","x":1.4,"y":5890},{"s":"Z","x":1.6,"y":5130},{"s":"Z","x":1.8,"y":4470},{"s":"Z","x":2.0,"y":3800},{"s":"Z","x":2.2,"y":3240},{"s":"Z","x":2.4,"y":2820},{"s":"Z","x":2.6,"y":2450},{"s":"Z","x":2.8,"y":2090},{"s":"Z","x":3.0,"y":1820},{"s":"Z","x":3.2,"y":1585},{"s":"Z","x":3.4,"y":1350},{"s":"Z","x":3.6,"y":1175},{"s":"Z","x":3.8,"y":1023},{"s":"Z","x":4.0,"y":891},{"s":"Z","x":4.2,"y":776},{"s":"Z","x":4.4,"y":692},{"s":"Z","x":4.6,"y":603},{"s":"Z","x":4.8,"y":537},{"s":"Z","x":5.0,"y":479},{"s":"Z","x":5.2,"y":427},{"s":"Z","x":5.4,"y":380},{"s":"Z","x":5.6,"y":339},{"s":"Z","x":5.8,"y":302},{"s":"Z","x":6.0,"y":269},{"s":"Z","x":6.2,"y":240},{"s":"Z","x":6.4,"y":214},{"s":"Z","x":6.6,"y":195},{"s":"Z","x":6.8,"y":166},{"s":"Z","x":7.0,"y":155},{"s":"Z","x":7.2,"y":135},{"s":"Z","x":7.4,"y":123},{"s":"Z","x":7.6,"y":107},{"s":"Z","x":7.8,"y":102},{"s":"Z","x":8.0,"y":89.1},{"s":"Z","x":8.2,"y":85.1},{"s":"Z","x":8.4,"y":74.1},{"s":"Z","x":8.6,"y":72.4},{"s":"Z","x":8.8,"y":61.7},{"s":"Z","x":9.0,"y":61.7},{"s":"Z","x":9.2,"y":52.5},{"s":"Z","x":9.4,"y":50.1},{"s":"Z","x":9.6,"y":46.8},{"s":"Z","x":9.8,"y":40.7},{"s":"Z","x":10.0,"y":38.9},
{"s":"Z","x":10.2,"y":38.0,"l":32,"h":45},{"s":"Z","x":10.4,"y":29.5,"l":24,"h":35},{"s":"Z","x":10.6,"y":34.7,"l":29,"h":41},{"s":"Z","x":10.8,"y":25.7,"l":21,"h":31},{"s":"Z","x":11.0,"y":29.5,"l":24,"h":35},{"s":"Z","x":11.2,"y":20.4,"l":16,"h":25},{"s":"Z","x":11.4,"y":25.1,"l":20,"h":30},{"s":"Z","x":11.6,"y":20.4,"l":16,"h":25},{"s":"Z","x":11.8,"y":22.9,"l":18,"h":28},{"s":"Z","x":12.0,"y":15.8,"l":12,"h":20},{"s":"Z","x":12.2,"y":19.5,"l":15,"h":24},{"s":"Z","x":12.4,"y":14.8,"l":11,"h":19},{"s":"Z","x":12.6,"y":18.2,"l":14,"h":23},{"s":"Z","x":12.8,"y":11.0,"l":7.7,"h":14.5},{"s":"Z","x":13.0,"y":14.8,"l":11,"h":19},{"s":"Z","x":13.2,"y":11.2,"l":7.8,"h":15},{"s":"Z","x":13.4,"y":13.8,"l":9.7,"h":18},{"s":"Z","x":13.6,"y":10.5,"l":7.3,"h":14},{"s":"Z","x":13.8,"y":11.5,"l":8,"h":15},{"s":"Z","x":14.0,"y":8.32,"l":5.8,"h":11},{"s":"Z","x":14.2,"y":5.01,"l":3.0,"h":7.0},{"s":"Z","x":14.4,"y":10.0,"l":7,"h":13},{"s":"Z","x":14.6,"y":7.76,"l":5.4,"h":10.5},{"s":"Z","x":14.8,"y":9.12,"l":6.4,"h":12},{"s":"Z","x":15.0,"y":5.5,"l":3.5,"h":7.6},{"s":"Z","x":15.2,"y":7.59,"l":5.3,"h":10},{"s":"Z","x":15.4,"y":6.03,"l":4.2,"h":8.1},{"s":"Z","x":15.6,"y":7.94,"l":5.6,"h":10.5},{"s":"Z","x":15.8,"y":5.75,"l":4.0,"h":7.8},{"s":"Z","x":16.0,"y":6.92,"l":4.8,"h":9.3},{"s":"Z","x":16.2,"y":5.13,"l":3.4,"h":7.0},{"s":"Z","x":16.4,"y":6.46,"l":4.5,"h":8.7},{"s":"Z","x":16.6,"y":4.57,"l":2.9,"h":6.4},{"s":"Z","x":16.8,"y":6.46,"l":4.5,"h":8.7},{"s":"Z","x":17.0,"y":5.13,"l":3.4,"h":7.0},{"s":"Z","x":17.2,"y":6.03,"l":4.2,"h":8.1},{"s":"Z","x":17.4,"y":4.37,"l":2.8,"h":6.1},{"s":"Z","x":17.6,"y":5.89,"l":4.1,"h":7.9},{"s":"Z","x":17.8,"y":3.47,"l":2.0,"h":5.0},{"s":"Z","x":18.0,"y":5.37,"l":3.6,"h":7.3},{"s":"Z","x":18.2,"y":4.17,"l":2.6,"h":5.8},{"s":"Z","x":18.4,"y":4.9,"l":3.2,"h":6.7},{"s":"Z","x":18.6,"y":1.82,"l":0.9,"h":2.8},{"s":"Z","x":18.8,"y":2.34,"l":1.2,"h":3.5},{"s":"Z","x":19.0,"y":4.27,"l":2.7,"h":6.0},{"s":"Z","x":19.2,"y":3.16,"l":1.8,"h":4.6},{"s":"Z","x":19.4,"y":3.98,"l":2.5,"h":5.6},{"s":"Z","x":19.6,"y":2.4,"l":1.3,"h":3.6},{"s":"Z","x":19.8,"y":0.93,"l":0.3,"h":1.6},
{"s":"Z","x":10.1,"y":34.3,"l":29,"h":41},{"s":"Z","x":10.3,"y":37.6,"l":31,"h":44},{"s":"Z","x":10.5,"y":28.8,"l":23.5,"h":34},{"s":"Z","x":10.7,"y":32.7,"l":27,"h":39},{"s":"Z","x":10.9,"y":26.0,"l":21,"h":31},{"s":"Z","x":11.1,"y":27.2,"l":22,"h":32},{"s":"Z","x":11.3,"y":20.9,"l":16.5,"h":25.5},{"s":"Z","x":11.5,"y":24.5,"l":19.5,"h":29.5},{"s":"Z","x":11.7,"y":18.8,"l":15,"h":23},{"s":"Z","x":11.9,"y":21.6,"l":17,"h":26.5},{"s":"Z","x":12.1,"y":16.8,"l":13,"h":21},{"s":"Z","x":12.3,"y":18.4,"l":14.5,"h":22.5},{"s":"Z","x":12.5,"y":13.8,"l":10.5,"h":17.5},{"s":"Z","x":12.7,"y":16.0,"l":12,"h":20},{"s":"Z","x":12.9,"y":14.6,"l":11,"h":18.5},{"s":"Z","x":13.1,"y":11.6,"l":8.1,"h":15.5},{"s":"Z","x":13.3,"y":13.8,"l":9.7,"h":18.5},{"s":"Z","x":13.5,"y":10.6,"l":7.4,"h":14.3},{"s":"Z","x":13.7,"y":12.0,"l":8.4,"h":16.2},{"s":"Z","x":13.9,"y":9.23,"l":6.5,"h":12.5},{"s":"Z","x":14.1,"y":10.5,"l":7.3,"h":14},{"s":"Z","x":14.3,"y":8.04,"l":5.6,"h":10.8},{"s":"Z","x":14.5,"y":9.55,"l":6.7,"h":12.9},{"s":"Z","x":14.7,"y":7.5,"l":5.2,"h":10.1},{"s":"Z","x":14.9,"y":8.71,"l":6.1,"h":11.8},{"s":"Z","x":15.1,"y":6.24,"l":4.4,"h":8.4},{"s":"Z","x":15.3,"y":7.67,"l":5.4,"h":10.4},{"s":"Z","x":15.5,"y":6.31,"l":4.4,"h":8.5},{"s":"Z","x":15.7,"y":6.92,"l":4.8,"h":9.3},{"s":"Z","x":15.9,"y":5.19,"l":3.4,"h":7.1},{"s":"Z","x":16.1,"y":6.68,"l":4.7,"h":9.0},{"s":"Z","x":16.3,"y":5.56,"l":3.9,"h":7.5},{"s":"Z","x":16.5,"y":6.53,"l":4.6,"h":8.8},{"s":"Z","x":16.7,"y":4.84,"l":3.1,"h":6.8},{"s":"Z","x":16.9,"y":5.96,"l":4.2,"h":8.0},{"s":"Z","x":17.1,"y":5.19,"l":3.4,"h":7.1},{"s":"Z","x":17.3,"y":5.96,"l":4.2,"h":8.0},{"s":"Z","x":17.5,"y":4.52,"l":2.9,"h":6.3},{"s":"Z","x":17.7,"y":5.43,"l":3.8,"h":7.3},{"s":"Z","x":17.9,"y":4.47,"l":2.9,"h":6.2},{"s":"Z","x":18.1,"y":5.19,"l":3.4,"h":7.1},{"s":"Z","x":18.3,"y":4.07,"l":2.6,"h":5.7},{"s":"Z","x":18.5,"y":2.72,"l":1.5,"h":4.0},{"s":"Z","x":18.7,"y":4.47,"l":2.9,"h":6.2},{"s":"Z","x":18.9,"y":2.85,"l":1.6,"h":4.2},{"s":"Z","x":19.1,"y":4.07,"l":2.6,"h":5.7},{"s":"Z","x":19.3,"y":2.72,"l":1.5,"h":4.0},{"s":"Z","x":19.5,"y":3.47,"l":2.1,"h":5.0},{"s":"Z","x":19.7,"y":2.6,"l":1.4,"h":3.9},{"s":"Z","x":19.9,"y":2.82,"l":1.5,"h":4.2}
]
},
"bounds": "flush",
"spacing": 91,
"resolve": {"scale": {"color": "independent"}, "legend": {"color": "independent"}},
"vconcat": [
{
 "width": 737, "height": 282,
 "data": {"name": "top"},
 "resolve": {"axis": {"x": "independent", "y": "independent"}},
 "layer": [
  {
   "transform": [{"filter": "datum.x == 0"}],
   "mark": {"type": "circle", "size": 64, "opacity": 0},
   "encoding": {
    "x": {"field": "x", "type": "quantitative", "scale": {"domain": [-10, 19.9], "nice": false, "zero": false}, "axis": null},
    "y": {"field": "y", "type": "quantitative", "scale": {"type": "log", "domain": [0.3, 25000], "nice": false}, "axis": {"orient": "left", "labels": false, "ticks": false, "domain": false, "title": "E", "titleFontSize": 17, "titleAngle": 0, "titleX": 670, "titleY": 329, "titleAlign": "left", "titleBaseline": "alphabetic"}},
    "color": {"field": "s", "type": "nominal", "scale": {"domain": ["Z", "D"], "range": ["#f01818", "#fdc700"]},
          "legend": {"title": null, "orient": "none", "legendX": 496, "legendY": 28.5, "symbolType": "circle", "symbolSize": 64, "symbolOpacity": 1, "symbolStrokeWidth": 0, "labelFont": "Liberation Sans", "labelFontSize": 19, "labelFontWeight": "bold", "labelColor": "black", "labelOffset": 16, "rowPadding": 16, "labelExpr": "datum.value == 'Z' ? 'Zee Sherpa' : '2DP20 Sherpa'"}}
   }
  },
  {
   "transform": [{"filter": "isValid(datum.l)"}],
   "mark": {"type": "rule", "strokeWidth": 2, "clip": true},
   "encoding": {
    "x": {"field": "x", "type": "quantitative", "scale": {"domain": [-10, 19.9], "nice": false, "zero": false},
          "axis": {"orient": "top", "values": [-10,-9,-8,-7,-6,-5,-4,-3,-2,-1,0,1,2,3,4,5,6,7,8,9,10,11,12,13,14,15,16,17,18,19], "labels": false, "tickSize": {"condition": {"test": "datum.value % 5 == 0", "value": -9}, "value": -4.5}, "title": "iso", "titleFontSize": 9.5, "titleAngle": 0, "titleX": 682, "titleY": 318, "titleAlign": "left", "titleBaseline": "alphabetic"}},
    "y": {"field": "l", "type": "quantitative", "scale": {"type": "log", "domain": [0.3, 25000], "nice": false},
          "axis": {"orient": "right", "values": [0.3,0.4,0.5,0.6,0.7,0.8,0.9,1,2,3,4,5,6,7,8,9,10,20,30,40,50,60,70,80,90,100,200,300,400,500,600,700,800,900,1000,2000,3000,4000,5000,6000,7000,8000,9000,10000,20000], "labels": false, "tickSize": {"condition": {"test": "datum.value == 1 || datum.value == 10 || datum.value == 100 || datum.value == 1000 || datum.value == 10000", "value": -15}, "value": -7}, "title": "T,1", "titleFontSize": 9.5, "titleAngle": 0, "titleX": -55, "titleY": 331, "titleAlign": "left", "titleBaseline": "alphabetic"}},
    "y2": {"field": "h"},
    "color": {"field": "s", "type": "nominal", "scale": {"domain": ["Z", "D"], "range": ["#f01818", "#fdc700"]}}
   }
  },
  {
   "mark": {"type": "circle", "size": 75, "opacity": 1, "clip": true},
   "encoding": {
    "x": {"field": "x", "type": "quantitative", "scale": {"domain": [-10, 19.9], "nice": false, "zero": false},
          "axis": {"orient": "bottom", "values": [-10,-9,-8,-7,-6,-5,-4,-3,-2,-1,0,1,2,3,4,5,6,7,8,9,10,11,12,13,14,15,16,17,18,19], "labelExpr": "datum.value % 5 == 0 ? '' + datum.value : ''", "tickSize": {"condition": {"test": "datum.value % 5 == 0", "value": -9}, "value": -4.5}, "labelPadding": 17, "title": "[GeV]", "titleFontSize": 17, "titleX": 738, "titleY": 47, "titleAlign": "right", "titleBaseline": "alphabetic"}},
    "y": {"field": "y", "type": "quantitative", "scale": {"type": "log", "domain": [0.3, 25000], "nice": false},
          "axis": {"orient": "left", "values": [0.3,0.4,0.5,0.6,0.7,0.8,0.9,1,2,3,4,5,6,7,8,9,10,20,30,40,50,60,70,80,90,100,200,300,400,500,600,700,800,900,1000,2000,3000,4000,5000,6000,7000,8000,9000,10000,20000], "labelExpr": "datum.value == 1 ? '1' : datum.value == 10 ? '10' : datum.value == 100 ? '10²' : datum.value == 1000 ? '10³' : datum.value == 10000 ? '10⁴' : ''", "tickSize": {"condition": {"test": "datum.value == 1 || datum.value == 10 || datum.value == 100 || datum.value == 1000 || datum.value == 10000", "value": -15}, "value": -7}, "labelPadding": 25, "title": "arbitrary unit", "titleFontSize": 18, "titleAngle": -90, "titleX": -45, "titleY": -4, "titleAlign": "right", "titleBaseline": "alphabetic"}},
    "color": {"field": "s", "type": "nominal", "scale": {"domain": ["Z", "D"], "range": ["#f01818", "#fdc700"]}}
   }
  }
 ]
},
{
 "width": 737, "height": 282,
 "data": {"name": "bot"},
 "resolve": {"axis": {"x": "independent", "y": "independent"}},
 "layer": [
  {
   "transform": [{"filter": "datum.x == 0"}],
   "mark": {"type": "circle", "size": 64, "opacity": 0},
   "encoding": {
    "x": {"field": "x", "type": "quantitative", "scale": {"domain": [-10, 19.9], "nice": false, "zero": false}, "axis": null},
    "y": {"field": "y", "type": "quantitative", "scale": {"type": "log", "domain": [0.3, 25000], "nice": false}, "axis": {"orient": "left", "labels": false, "ticks": false, "domain": false, "title": "E", "titleFontSize": 17, "titleAngle": 0, "titleX": 670, "titleY": 325, "titleAlign": "left", "titleBaseline": "alphabetic"}},
    "color": {"field": "s", "type": "nominal", "scale": {"domain": ["Z", "D"], "range": ["#f01818", "#fdc700"]},
          "legend": {"title": null, "orient": "none", "legendX": 496, "legendY": 26.5, "symbolType": "circle", "symbolSize": 64, "symbolOpacity": 1, "symbolStrokeWidth": 0, "labelFont": "Liberation Sans", "labelFontSize": 19, "labelFontWeight": "bold", "labelColor": "black", "labelOffset": 16, "rowPadding": 16, "labelExpr": "datum.value == 'Z' ? 'Zee Sherpa' : '2DP20 Sherpa'"}}
   }
  },
  {
   "transform": [{"filter": "isValid(datum.l)"}],
   "mark": {"type": "rule", "strokeWidth": 2, "clip": true},
   "encoding": {
    "x": {"field": "x", "type": "quantitative", "scale": {"domain": [-10, 19.9], "nice": false, "zero": false},
          "axis": {"orient": "top", "values": [-10,-9,-8,-7,-6,-5,-4,-3,-2,-1,0,1,2,3,4,5,6,7,8,9,10,11,12,13,14,15,16,17,18,19], "labels": false, "tickSize": {"condition": {"test": "datum.value % 5 == 0", "value": -9}, "value": -4.5}, "title": "iso", "titleFontSize": 9.5, "titleAngle": 0, "titleX": 682, "titleY": 313, "titleAlign": "left", "titleBaseline": "alphabetic"}},
    "y": {"field": "l", "type": "quantitative", "scale": {"type": "log", "domain": [0.3, 25000], "nice": false},
          "axis": {"orient": "right", "values": [0.3,0.4,0.5,0.6,0.7,0.8,0.9,1,2,3,4,5,6,7,8,9,10,20,30,40,50,60,70,80,90,100,200,300,400,500,600,700,800,900,1000,2000,3000,4000,5000,6000,7000,8000,9000,10000,20000], "labels": false, "tickSize": {"condition": {"test": "datum.value == 1 || datum.value == 10 || datum.value == 100 || datum.value == 1000 || datum.value == 10000", "value": -15}, "value": -7}, "title": "T,2", "titleFontSize": 9.5, "titleAngle": 0, "titleX": -55, "titleY": 327, "titleAlign": "left", "titleBaseline": "alphabetic"}},
    "y2": {"field": "h"},
    "color": {"field": "s", "type": "nominal", "scale": {"domain": ["Z", "D"], "range": ["#f01818", "#fdc700"]}}
   }
  },
  {
   "mark": {"type": "circle", "size": 75, "opacity": 1, "clip": true},
   "encoding": {
    "x": {"field": "x", "type": "quantitative", "scale": {"domain": [-10, 19.9], "nice": false, "zero": false},
          "axis": {"orient": "bottom", "values": [-10,-9,-8,-7,-6,-5,-4,-3,-2,-1,0,1,2,3,4,5,6,7,8,9,10,11,12,13,14,15,16,17,18,19], "labelExpr": "datum.value % 5 == 0 ? '' + datum.value : ''", "tickSize": {"condition": {"test": "datum.value % 5 == 0", "value": -9}, "value": -4.5}, "labelPadding": 17, "title": "[GeV]", "titleFontSize": 17, "titleX": 738, "titleY": 44, "titleAlign": "right", "titleBaseline": "alphabetic"}},
    "y": {"field": "y", "type": "quantitative", "scale": {"type": "log", "domain": [0.3, 25000], "nice": false},
          "axis": {"orient": "left", "values": [0.3,0.4,0.5,0.6,0.7,0.8,0.9,1,2,3,4,5,6,7,8,9,10,20,30,40,50,60,70,80,90,100,200,300,400,500,600,700,800,900,1000,2000,3000,4000,5000,6000,7000,8000,9000,10000,20000], "labelExpr": "datum.value == 1 ? '1' : datum.value == 10 ? '10' : datum.value == 100 ? '10²' : datum.value == 1000 ? '10³' : datum.value == 10000 ? '10⁴' : ''", "tickSize": {"condition": {"test": "datum.value == 1 || datum.value == 10 || datum.value == 100 || datum.value == 1000 || datum.value == 10000", "value": -15}, "value": -7}, "labelPadding": 25, "title": "arbitrary unit", "titleFontSize": 18, "titleAngle": -90, "titleX": -45, "titleY": -4, "titleAlign": "right", "titleBaseline": "alphabetic"}},
    "color": {"field": "s", "type": "nominal", "scale": {"domain": ["Z", "D"], "range": ["#f01818", "#fdc700"]}}
   }
  }
 ]
}
]
}
